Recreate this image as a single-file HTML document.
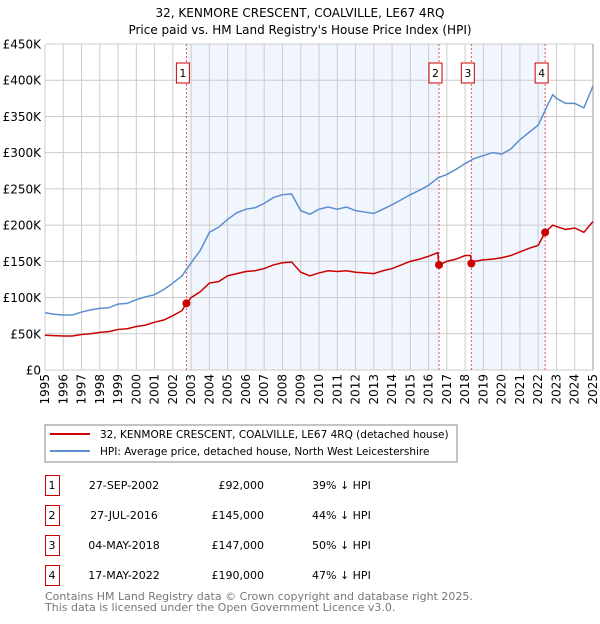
<!DOCTYPE html>
<html><head><meta charset="utf-8"><style>
body{margin:0;background:#fff;font-family:"DejaVu Sans","Liberation Sans",sans-serif}
svg text{font-family:"DejaVu Sans","Liberation Sans",sans-serif}
</style></head><body>
<svg id="chart" width="600" height="620" viewBox="0 0 600 620" xmlns="http://www.w3.org/2000/svg">
<text x="300" y="17" text-anchor="middle" font-size="12">32, KENMORE CRESCENT, COALVILLE, LE67 4RQ</text>
<text x="300" y="34" text-anchor="middle" font-size="12">Price paid vs. HM Land Registry's House Price Index (HPI)</text>
<g id="plot"></g>
<g>
<rect x="45" y="425" width="412" height="37" fill="#fff" stroke="#888"/>
<line x1="50" y1="434" x2="90" y2="434" stroke="#cc0000" stroke-width="2"/>
<text x="100" y="438" font-size="10.5">32, KENMORE CRESCENT, COALVILLE, LE67 4RQ (detached house)</text>
<line x1="50" y1="451" x2="90" y2="451" stroke="#5b8fd0" stroke-width="2"/>
<text x="100" y="455" font-size="10.5">HPI: Average price, detached house, North West Leicestershire</text>
</g>
<g id="table"></g>
<text x="45" y="600" font-size="11" fill="#777">Contains HM Land Registry data © Crown copyright and database right 2025.</text>
<text x="45" y="611" font-size="11" fill="#777">This data is licensed under the Open Government Licence v3.0.</text>
</svg>
<script>
const hpiYears=[1995,1995.5,1996,1996.5,1997,1997.5,1998,1998.5,1999,1999.5,2000,2000.5,2001,2001.5,2002,2002.5,2003,2003.5,2004,2004.5,2005,2005.5,2006,2006.5,2007,2007.5,2008,2008.5,2009,2009.5,2010,2010.5,2011,2011.5,2012,2012.5,2013,2013.5,2014,2014.5,2015,2015.5,2016,2016.5,2017,2017.5,2018,2018.5,2019,2019.5,2020,2020.5,2021,2021.5,2022,2022.5,2022.8,2023,2023.5,2024,2024.5,2025];
const hpiValues=[79,77,76,76,80,83,85,86,91,92,97,101,104,111,120,130,148,165,190,197,208,217,222,224,230,238,242,243,220,215,222,225,222,225,220,218,216,222,228,235,242,248,255,265,270,277,285,292,296,300,298,305,318,328,338,365,380,375,368,368,362,392];
const redYears=[1995,1996,1996.5,1997,1997.5,1998,1998.5,1999,1999.5,2000,2000.5,2001,2001.5,2002,2002.5,2002.74,2003,2003.5,2004,2004.5,2005,2005.5,2006,2006.5,2007,2007.5,2008,2008.5,2009,2009.5,2010,2010.5,2011,2011.5,2012,2012.5,2013,2013.5,2014,2014.5,2015,2015.5,2016,2016.5,2016.57,2017,2017.5,2018,2018.3,2018.34,2018.5,2019,2019.5,2020,2020.5,2021,2021.5,2022,2022.38,2022.8,2023,2023.5,2024,2024.5,2025];
const redValues=[48,47,47,49,50,52,53,56,57,60,62,66,69,75,82,92,100,108,120,122,130,133,136,137,140,145,148,149,135,130,134,137,136,137,135,134,133,137,140,145,150,153,157,162,145,150,153,158,158,147,150,152,153,155,158,163,168,172,190,200,198,194,196,190,205];
const saleYears=[2002.74,2016.57,2018.34,2022.38];
const saleValues=[92,145,147,190];
const saleLabels=["1","2","3","4"];
const saleDates=["27-SEP-2002","27-JUL-2016","04-MAY-2018","17-MAY-2022"];
const salePrices=["£92,000","£145,000","£147,000","£190,000"];
const salePcts=["39% ↓ HPI","44% ↓ HPI","50% ↓ HPI","47% ↓ HPI"];
const yTicks=[0,50,100,150,200,250,300,350,400,450];
const yTickLabels=["£0","£50K","£100K","£150K","£200K","£250K","£300K","£350K","£400K","£450K"];
const xTicks=[1995,1996,1997,1998,1999,2000,2001,2002,2003,2004,2005,2006,2007,2008,2009,2010,2011,2012,2013,2014,2015,2016,2017,2018,2019,2020,2021,2022,2023,2024,2025];

const NS="http://www.w3.org/2000/svg";
const L=45,R=593,T=44,B=370;
const x=y=>L+(y-1995)/30*(R-L);
const yv=v=>B-v/450*(B-T);
const plot=document.getElementById('plot');
function mk(tag,attrs,parent){const e=document.createElementNS(NS,tag);for(const k in attrs)e.setAttribute(k,attrs[k]);(parent||plot).appendChild(e);return e;}

for(let i=0;i<saleYears.length;i+=2){
  const x1=x(saleYears[i]),x2=i+1<saleYears.length?x(saleYears[i+1]):R;
  const r=mk('rect',{x:x1,y:T,width:x2-x1,height:B-T,fill:'#eef3fc',opacity:0.8});
  
  
}
xTicks.forEach(t=>{
  const g=mk('line',{x1:x(t),x2:x(t),y1:T,y2:B,stroke:'#cccccc','stroke-width':1});
  
  
  const tx=mk('text',{x:0,y:0,'font-size':12,'text-anchor':'end',transform:`translate(${x(t)+4},${B+4}) rotate(-90)`});
  tx.textContent=t;
  
  
});
yTicks.forEach((t,i)=>{
  const g=mk('line',{x1:L,x2:R,y1:yv(t),y2:yv(t),stroke:'#cccccc','stroke-width':1});
  
  
  const tx=mk('text',{x:L-4,y:yv(t)+4.5,'font-size':12,'text-anchor':'end'});
  tx.textContent=yTickLabels[i];
  
  
});
mk('line',{x1:R,x2:R,y1:T,y2:B,stroke:'#999'});
saleYears.forEach((s,i)=>{
  const l=mk('line',{x1:x(s),x2:x(s),y1:T,y2:B,stroke:'#e05050','stroke-width':1,'stroke-dasharray':'2,2'});
  
  
  const b=mk('rect',{x:x(s)-10,y:63,width:13,height:20,fill:'#fff',stroke:'#cc0000'});
  
  
  const t=mk('text',{x:x(s)-3.5,y:77,'font-size':11,'text-anchor':'middle'});
  t.textContent=saleLabels[i];
  
  
});
const hp=mk('polyline',{points:hpiYears.map((y,i)=>x(y)+','+yv(hpiValues[i])).join(' '),fill:'none',stroke:'#5b8fd0','stroke-width':1.5});


const rp=mk('polyline',{points:redYears.map((y,i)=>x(y)+','+yv(redValues[i])).join(' '),fill:'none',stroke:'#cc0000','stroke-width':1.5});


saleYears.forEach((s,i)=>{
  const c=mk('circle',{cx:x(s),cy:yv(saleValues[i]),r:4,fill:'#cc0000'});
  
  
});
const tb=document.getElementById('table');
saleYears.forEach((s,i)=>{
  const yy=475+i*30;
  const b=mk('rect',{x:45.5,y:yy+0.5,width:14,height:20,fill:'#fff',stroke:'#cc0000'},tb);
  
  
  const cells=[[saleLabels[i],52,'middle'],[saleDates[i],124,'middle'],[salePrices[i],264,'end'],[salePcts[i],312,'start']];
  const names=['table-row-number','table-sale-date','table-sale-price','table-hpi-diff'];
  cells.forEach((c,j)=>{
    const t=mk('text',{x:c[1],y:yy+14,'font-size':11,'text-anchor':c[2]},tb);
    t.textContent=c[0];
    
    
  });
});
</script>
</body></html>
